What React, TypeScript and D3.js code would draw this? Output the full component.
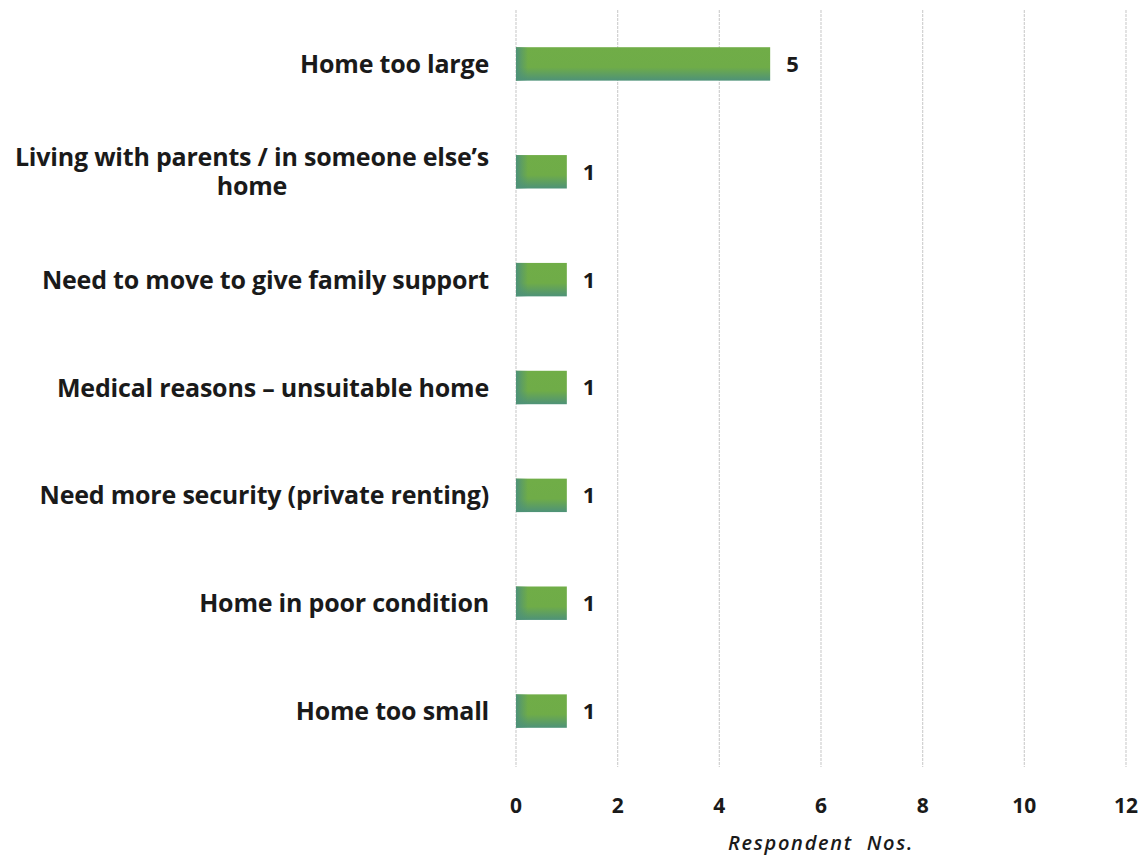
import React, { useEffect, useRef } from "react";
import * as d3 from "d3";

const categories = [
  "Home too large",
  "Living with parents / in someone else’s home",
  "Need to move to give family support",
  "Medical reasons – unsuitable home",
  "Need more security (private renting)",
  "Home in poor condition",
  "Home too small",
];
const labelLines: string[][] = [
  ["Home too large"],
  ["Living with parents / in someone else’s", "home"],
  ["Need to move to give family support"],
  ["Medical reasons – unsuitable home"],
  ["Need more security (private renting)"],
  ["Home in poor condition"],
  ["Home too small"],
];
const values = [5, 1, 1, 1, 1, 1, 1];
const xTicks = [0, 2, 4, 6, 8, 10, 12];
const axisTitle = "Respondent  Nos.";

const W = 1141;
const H = 859;
const margin = { left: 516, right: 15, top: 10, bottom: 94 };
const FONT = "'Open Sans', Lato, sans-serif";

export default function App() {
  const ref = useRef<SVGSVGElement | null>(null);

  useEffect(() => {
    const svg = d3.select(ref.current);
    svg.selectAll("*").remove();

    const x = d3.scaleLinear().domain([0, 12]).range([margin.left, W - margin.right]);
    const y = d3
      .scaleBand()
      .domain(categories)
      .range([margin.top, H - margin.bottom])
      .paddingInner(0.69)
      .paddingOuter(0.345);

    const defs = svg.append("defs");
    const gv = defs
      .append("linearGradient")
      .attr("id", "gv")
      .attr("x1", 0)
      .attr("y1", 0)
      .attr("x2", 0)
      .attr("y2", 1);
    gv.append("stop").attr("offset", "0%").attr("stop-color", "#70AD47");
    gv.append("stop").attr("offset", "60%").attr("stop-color", "#6FAC48");
    gv.append("stop").attr("offset", "100%").attr("stop-color", "#4E9278");
    const gh = defs
      .append("linearGradient")
      .attr("id", "gh")
      .attr("x1", 0)
      .attr("y1", 0)
      .attr("x2", 1)
      .attr("y2", 0);
    gh.append("stop").attr("offset", "0%").attr("stop-color", "#4E9278").attr("stop-opacity", 1);
    gh.append("stop").attr("offset", "100%").attr("stop-color", "#4E9278").attr("stop-opacity", 0);

    // gridlines
    svg
      .append("g")
      .selectAll("line")
      .data(xTicks)
      .join("line")
      .attr("x1", (d) => x(d))
      .attr("x2", (d) => x(d))
      .attr("y1", margin.top)
      .attr("y2", H - margin.bottom + 2)
      .attr("stroke", "#d0d0d0")
      .attr("stroke-width", 1.2)
      .attr("stroke-dasharray", "3,1");

    // bars
    const bars = svg.append("g");
    categories.forEach((c, i) => {
      const y0 = y(c)!;
      const bw = x(values[i]) - x(0);
      bars
        .append("rect")
        .attr("x", x(0))
        .attr("y", y0)
        .attr("width", bw)
        .attr("height", y.bandwidth())
        .attr("fill", "url(#gv)");
      bars
        .append("rect")
        .attr("x", x(0))
        .attr("y", y0)
        .attr("width", Math.min(12, bw))
        .attr("height", y.bandwidth())
        .attr("fill", "url(#gh)");
    });

    // value labels
    svg
      .append("g")
      .selectAll("text")
      .data(categories)
      .join("text")
      .attr("x", (_, i) => x(values[i]) + 16)
      .attr("y", (c) => y(c)! + y.bandwidth() / 2)
      .attr("dy", "0.36em")
      .attr("font-family", FONT)
      .attr("font-weight", "bold")
      .attr("font-size", 22)
      .attr("fill", "#1a1a1a")
      .text((_, i) => String(values[i]));

    // category labels
    const labelRight = 489;
    const lg = svg.append("g");
    categories.forEach((c, i) => {
      const lines = labelLines[i];
      const cy = y(c)! + y.bandwidth() / 2;
      const lh = 29;
      const t = lg
        .append("text")
        .attr("font-family", FONT)
        .attr("font-weight", "bold")
        .attr("font-size", 25)
        .attr("letter-spacing", -0.2)
        .attr("fill", "#1a1a1a");
      if (lines.length === 1) {
        t.attr("x", labelRight).attr("y", cy).attr("dy", "0.36em").attr("text-anchor", "end").text(lines[0]);
      } else {
        const spans = lines.map((ln, k) =>
          t
            .append("tspan")
            .attr("x", labelRight)
            .attr("y", cy + (k - (lines.length - 1) / 2) * lh)
            .attr("dy", "0.36em")
            .attr("text-anchor", "end")
            .text(ln)
        );
        const widths = spans.map((s) => (s.node() as SVGTSpanElement).getComputedTextLength());
        const maxW = Math.max(...widths);
        const center = labelRight - maxW / 2;
        spans.forEach((s) => s.attr("x", center).attr("text-anchor", "middle"));
      }
    });

    // x tick labels
    svg
      .append("g")
      .selectAll("text")
      .data(xTicks)
      .join("text")
      .attr("x", (d) => x(d))
      .attr("y", 805)
      .attr("dy", "0.36em")
      .attr("text-anchor", "middle")
      .attr("font-family", FONT)
      .attr("font-weight", "bold")
      .attr("font-size", 21)
      .attr("fill", "#1a1a1a")
      .text((d) => String(d));

    svg
      .append("text")
      .attr("x", (x(0) + x(12)) / 2)
      .attr("y", 843)
      .attr("dy", "0.36em")
      .attr("text-anchor", "middle")
      .attr("font-family", FONT)
      .attr("font-style", "italic")
      .attr("font-weight", 600)
      .attr("font-size", 20)
      .attr("letter-spacing", 1.7)
      .attr("fill", "#1a1a1a")
      .style("white-space", "pre")
      .text(axisTitle);
  }, []);

  return (
    <svg
      ref={ref}
      width={W}
      height={H}
      style={{ position: "absolute", left: 0, top: 0, background: "#fff" }}
    />
  );
}
